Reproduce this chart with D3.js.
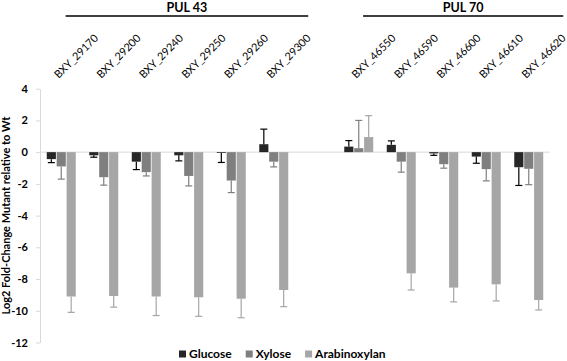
<!DOCTYPE html>
<html>
<head>
<meta charset="utf-8">
<script src="https://cdn.jsdelivr.net/npm/d3@7"></script>
<style>
  html, body { margin: 0; padding: 0; background: #fff; }
  svg { display: block; }
  text { font-family: Lato, "Open Sans", sans-serif; }
</style>
</head>
<body>
<svg id="chart" width="567" height="361"></svg>
<script>
// ---- data ----
const categories = ["BXY_29170","BXY_29200","BXY_29240","BXY_29250","BXY_29260","BXY_29300",
                    "BXY_46550","BXY_46590","BXY_46600","BXY_46610","BXY_46620"];
const seriesNames = ["Glucose","Xylose","Arabinoxylan"];
const glucose      = [-0.44,-0.2,-0.6,-0.2,-0.05,0.5, 0.35,0.46,-0.08,-0.28,-0.95];
const glucoseErr   = [0.22,0.12,0.5,0.35,0.6,0.95, 0.38,0.25,0.12,0.42,1.15];
const xylose       = [-0.9,-1.58,-1.26,-1.5,-1.79,-0.6, 0.25,-0.6,-0.76,-1.07,-1.05];
const xyloseErr    = [0.8,0.5,0.24,0.63,0.76,0.33, 1.75,0.66,0.25,0.74,1.0];
const arabinoxylan    = [-9.1,-9.07,-9.1,-9.15,-9.24,-8.69, 0.95,-7.64,-8.54,-8.33,-9.32];
const arabinoxylanErr = [1.0,0.7,1.2,1.2,1.2,1.05, 1.35,1.05,0.9,1.05,0.63];
const yTicks = [4,2,0,-2,-4,-6,-8,-10,-12];
const pulGroups = [
  {name: "PUL 43", first: "BXY_29170", last: "BXY_29300"},
  {name: "PUL 70", first: "BXY_46550", last: "BXY_46620"}
];
const yTitle = "Log2 Fold-Change Mutant relative to Wt";

// ---- styles ----
const colors = {Glucose: "#262626", Xylose: "#7f7f7f", Arabinoxylan: "#a6a6a6"};
const errColors = {Glucose: "#000000", Xylose: "#7f7f7f", Arabinoxylan: "#a6a6a6"};

const values = {Glucose: glucose, Xylose: xylose, Arabinoxylan: arabinoxylan};
const errs = {Glucose: glucoseErr, Xylose: xyloseErr, Arabinoxylan: arabinoxylanErr};

// slots: empty slot between the two PULs
const slots = categories.slice(0, 6).concat(["__gap__"], categories.slice(6));

const svg = d3.select("#chart");

const x = d3.scaleBand().domain(slots).range([40, 550]).paddingInner(0.318).paddingOuter(0.159);
const xs = d3.scaleBand().domain(seriesNames).range([0, x.bandwidth()]).paddingInner(0.08);
const y = d3.scaleLinear().domain([-12, 4]).range([342.5, 88.7]);

// y axis
const yAxis = svg.append("g").attr("transform", "translate(40,0)")
  .call(d3.axisLeft(y).tickValues(yTicks).tickSize(4).tickSizeOuter(0).tickPadding(8)
        .tickFormat(d => d3.format("d")(d).replace("−", "-")));
yAxis.select(".domain").attr("stroke", "#d9d9d9");
yAxis.selectAll(".tick line").attr("stroke", "#d9d9d9");
yAxis.selectAll(".tick text").attr("fill", "#000").style("font-size", "11px")
  .style("font-weight", "bold").style("font-family", "Lato, sans-serif");

// zero line
svg.append("line")
  .attr("x1", 40).attr("x2", 550)
  .attr("y1", y(0)).attr("y2", y(0))
  .attr("stroke", "#d9d9d9").attr("stroke-width", 1);

// bars
const rows = [];
categories.forEach((c, i) => {
  seriesNames.forEach(s => rows.push({cat: c, s, v: values[s][i], e: errs[s][i]}));
});

svg.append("g").selectAll("rect").data(rows).join("rect")
  .attr("x", d => x(d.cat) + xs(d.s))
  .attr("width", xs.bandwidth())
  .attr("y", d => y(Math.max(0, d.v)))
  .attr("height", d => Math.abs(y(d.v) - y(0)))
  .attr("fill", d => colors[d.s]);

// error bars (one-sided, away from zero)
const eg = svg.append("g");
rows.forEach(d => {
  const cx = x(d.cat) + xs(d.s) + xs.bandwidth() / 2;
  const end = d.v >= 0 ? d.v + d.e : d.v - d.e;
  eg.append("line").attr("x1", cx).attr("x2", cx)
    .attr("y1", y(d.v)).attr("y2", y(end))
    .attr("stroke", errColors[d.s]).attr("stroke-width", 1.2);
  eg.append("line").attr("x1", cx - 3.5).attr("x2", cx + 3.5)
    .attr("y1", y(end)).attr("y2", y(end))
    .attr("stroke", errColors[d.s]).attr("stroke-width", 1.2);
});

// category labels
svg.append("g").selectAll("text").data(categories).join("text")
  .attr("transform", d => `translate(${x(d) + x.bandwidth() / 2 - 2.5},79) rotate(-45)`)
  .attr("text-anchor", "start")
  .style("font-size", "10.8px")
  .attr("fill", "#000")
  .text(d => d);

// PUL headers
pulGroups.forEach(g => {
  const x1 = x(g.first) + x.bandwidth() * 0.65;
  const x2 = x(g.last) + x.bandwidth() + 20;
  svg.append("line").attr("x1", x1).attr("x2", x2).attr("y1", 16).attr("y2", 16)
    .attr("stroke", "#000").attr("stroke-width", 1.5);
  svg.append("text").attr("x", (x1 + x2) / 2).attr("y", 12)
    .attr("text-anchor", "middle").style("font-size", "12.5px").style("font-weight", "bold")
    .text(g.name);
});

// y title
svg.append("text")
  .attr("transform", `translate(10,${(y(4) + y(-12)) / 2}) rotate(-90)`)
  .attr("text-anchor", "middle")
  .style("font-size", "11px").style("font-weight", "bold")
  .text(yTitle);

// legend
const lg = svg.append("g").attr("transform", "translate(179,354)");
let lx = 0;
seriesNames.forEach(s => {
  lg.append("rect").attr("x", lx).attr("y", -3.5).attr("width", 7).attr("height", 7).attr("fill", colors[s]);
  const t = lg.append("text").attr("x", lx + 10).attr("y", 4)
    .style("font-size", "12px").style("font-weight", "bold").text(s);
  lx += 10 + t.node().getComputedTextLength() + 14;
});
</script>
</body>
</html>
